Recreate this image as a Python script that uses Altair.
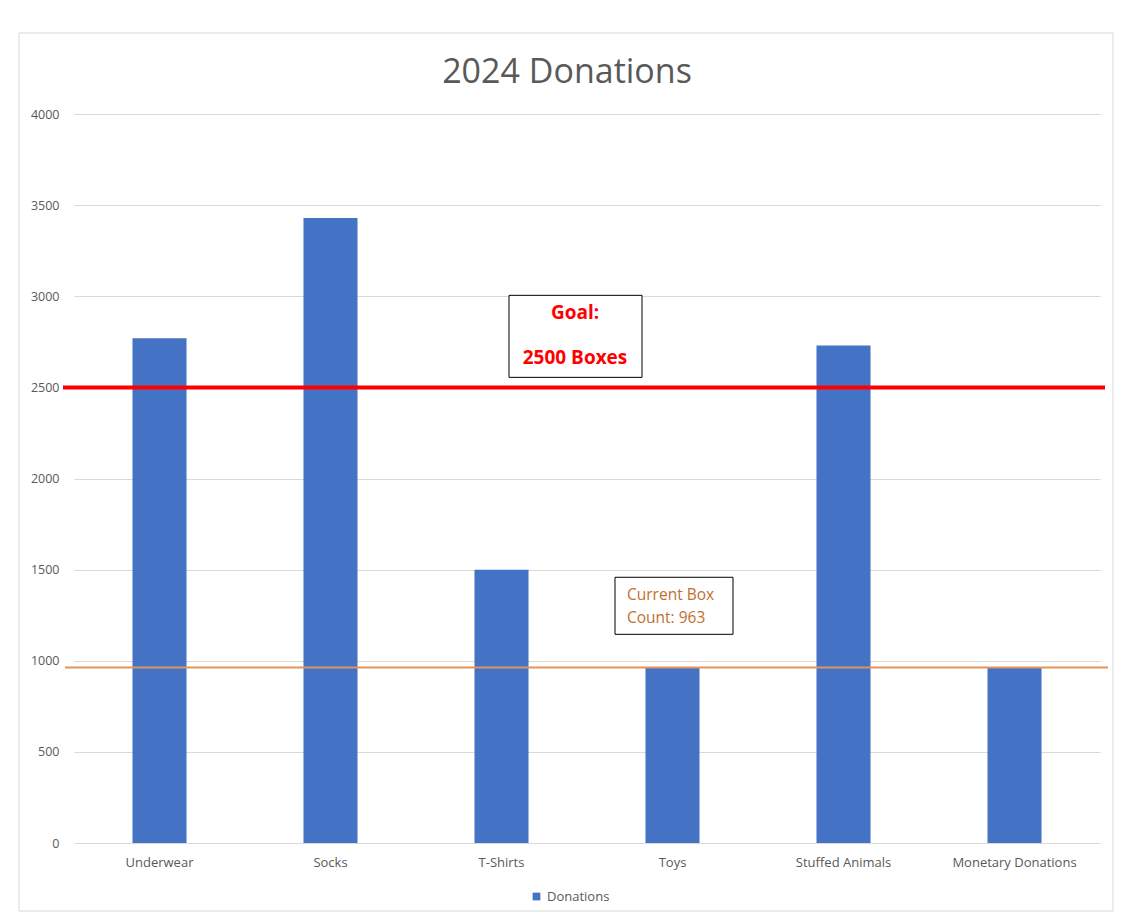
import altair as alt
import pandas as pd

categories = ["Underwear", "Socks", "T-Shirts", "Toys", "Stuffed Animals", "Monetary Donations"]
values = [2770, 3430, 1500, 963, 2730, 963]
series_name = "Donations"
goal_value = 2500
current_count = 963
y_ticks = [0, 500, 1000, 1500, 2000, 2500, 3000, 3500, 4000]
title_text = "2024 Donations"
goal_lines = ["Goal:", "2500 Boxes"]
count_lines = ["Current Box", "Count: 963"]

df = pd.DataFrame({"category": categories, "value": values, "series": series_name})

W, H = 1026, 729
FONT = "Open Sans"
GREY = "#595959"

yscale = alt.Scale(domain=[0, 4000], nice=False)

x = alt.X("category:N", sort=categories,
          scale=alt.Scale(paddingInner=0.684, paddingOuter=0.342),
          axis=alt.Axis(title=None, labelAngle=0, domain=False, ticks=False, tickSize=0,
                        labelPadding=13, labelFont=FONT, labelFontSize=13, labelColor=GREY))
y = alt.Y("value:Q", scale=yscale,
          axis=alt.Axis(title=None, values=y_ticks, format="d", grid=True, gridColor="#D9D9D9",
                        domain=False, ticks=False, tickSize=0, labelPadding=15, labelFont=FONT,
                        labelFontSize=12.5, labelColor=GREY))
color = alt.Color("series:N", scale=alt.Scale(domain=[series_name], range=["#4472C4"]),
                  legend=alt.Legend(title=None, orient="none", legendX=456, legendY=776,
                                    symbolType="square", symbolSize=60, symbolStrokeWidth=0,
                                    labelFont=FONT, labelFontSize=13, labelColor=GREY,
                                    direction="horizontal"))

one = pd.DataFrame({"value": [0]})

frame = alt.Chart(one).mark_rect(
    fillOpacity=0, stroke="#D9D9D9", strokeWidth=1).encode(
    x=alt.value(-55), x2=alt.value(1039), y=alt.value(-81), y2=alt.value(797))

title = alt.Chart(one).mark_text(
    text=title_text, font=FONT, fontSize=34, color=GREY,
    align="center", baseline="alphabetic").encode(x=alt.value(493), y=alt.value(-31))

bars = alt.Chart(df).mark_bar().encode(x=x, y=y, color=color)

goal_rule = alt.Chart(pd.DataFrame({"value": [goal_value]})).mark_rule(
    color="#FF0000", strokeWidth=4).encode(
    y=alt.Y("value:Q", scale=yscale), x=alt.value(-11), x2=alt.value(W + 5))
count_rule = alt.Chart(pd.DataFrame({"value": [current_count]})).mark_rule(
    color="#E2945A", strokeWidth=2).encode(
    y=alt.Y("value:Q", scale=yscale), x=alt.value(-9), x2=alt.value(W + 8))

goal_box = alt.Chart(one).mark_rect(
    fill="white", stroke="black", strokeWidth=1).encode(
    x=alt.value(435), x2=alt.value(568), y=alt.datum(3005), y2=alt.datum(2555))
count_box = alt.Chart(one).mark_rect(
    fill="white", stroke="black", strokeWidth=1).encode(
    x=alt.value(541), x2=alt.value(659), y=alt.datum(1458), y2=alt.datum(1145))

goal_t1 = alt.Chart(one).mark_text(
    text=goal_lines[0], font=FONT, fontSize=19, fontWeight="bold", color="#FF0000",
    align="center", baseline="middle").encode(x=alt.value(501), y=alt.datum(2906))
goal_t2 = alt.Chart(one).mark_text(
    text=goal_lines[1], font=FONT, fontSize=19, fontWeight="bold", color="#FF0000",
    align="center", baseline="middle").encode(x=alt.value(501), y=alt.datum(2660))
count_t1 = alt.Chart(one).mark_text(
    text=count_lines[0], font=FONT, fontSize=15.5, color="#C0702F",
    align="left", baseline="middle").encode(x=alt.value(553), y=alt.datum(1359))
count_t2 = alt.Chart(one).mark_text(
    text=count_lines[1], font=FONT, fontSize=15.5, color="#C0702F",
    align="left", baseline="middle").encode(x=alt.value(553), y=alt.datum(1233))

chart = alt.layer(frame, title, bars, goal_rule, count_rule, goal_box, count_box,
                  goal_t1, goal_t2, count_t1, count_t2).properties(
    width=W, height=H,
    autosize=alt.AutoSizeParams(type="none"),
    padding={"left": 66, "top": 106, "right": 14, "bottom": 71},
).configure(background="white").configure_view(stroke=None)

chart.save("out.html", embed_options={"renderer": "svg", "actions": False})
